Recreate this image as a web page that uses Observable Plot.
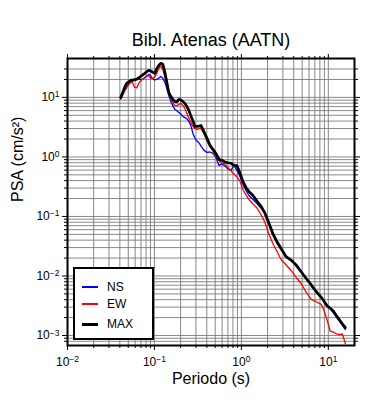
<!DOCTYPE html>
<html><head><meta charset="utf-8">
<script src="https://cdn.jsdelivr.net/npm/d3@7"></script>
<script src="https://cdn.jsdelivr.net/npm/@observablehq/plot@0.6"></script>
<style>
body{margin:0;background:#fff;font-family:"Liberation Sans",Arial,Helvetica,sans-serif;}
#wrap{position:relative;width:390px;height:400px;}
#legend{position:absolute;left:73px;top:267px;width:81px;height:73px;box-sizing:border-box;border:2px solid #000;background:#fff;}
.sw{position:absolute;left:7px;width:16px;}
.lab{position:absolute;left:32px;font-size:12px;line-height:14px;height:14px;color:#000;}
</style></head><body><div id="wrap"></div>
<script>
const period = [0.0409,0.0431,0.0454,0.0479,0.0505,0.0533,0.0562,0.0593,0.0625,0.0659,
0.0695,0.0733,0.0773,0.0815,0.0860,0.0906,0.0956,0.101,0.106,0.112,
0.118,0.125,0.132,0.139,0.146,0.154,0.163,0.171,0.181,0.191,
0.201,0.212,0.224,0.236,0.249,0.262,0.277,0.292,0.308,0.324,0.342,
0.370,0.401,0.434,0.470,0.509,0.552,0.597,0.647,0.700,0.759,0.822,0.890,0.964,
1.04,1.13,1.22,
1.36,1.51,1.68,1.87,2.08,2.31,2.57,2.86,
3.27,3.73,4.26,4.87,5.56,6.35,7.25,8.28,
8.97,9.71,10.5,11.4,12.3,13.4,14.5,15.7];

const ns = [9.62,11.2,13.1,14.7,16.5,17.9,18.9,19.3,19.8,20.1,
20.1,20.1,21.3,22.5,24.4,23.0,20.5,19.7,20.1,20.9,
22.5,20.9,17.9,13.9,10.8,8.57,7.20,6.34,5.98,5.60,
5.26,4.79,4.58,4.37,3.95,3.38,2.48,2.07,1.84,1.75,1.53,
1.30,1.19,1.21,1.145,0.981,0.720,0.763,0.706,0.629,0.593,0.720,0.593,0.470,
0.345,0.274,0.225,
0.193,0.1654,0.1390,0.1080,0.0734,0.0479,0.0352,0.0279,
0.0205,0.0182,0.01467,0.01163,0.00908,0.00679,0.00538,0.00435,
0.00366,0.00307,0.00281,0.00243,0.00205,0.00175,0.00150,0.00126];

const ew = [9.26,10.8,12.9,14.7,16.5,18.6,17.5,14.7,14.4,17.2,
18.9,20.1,21.7,23.4,23.0,20.9,20.9,22.1,25.3,30.7,
33.8,29.6,21.3,15.9,11.9,9.62,8.24,7.34,7.25,7.63,
7.93,7.34,6.53,5.38,4.44,3.80,3.26,3.01,2.90,2.95,3.01,
2.48,1.89,1.50,1.29,1.02,0.873,0.778,0.763,0.666,0.582,0.518,0.461,0.388,
0.284,0.230,0.193,
0.162,0.139,0.108,0.0793,0.0498,0.0345,0.0258,0.0189,
0.0153,0.01237,0.00944,0.00748,0.00534,0.00403,0.00370,0.00334,
0.00258,0.00179,0.00119,0.00114,0.00108,0.00104,0.00106,0.00073];

const maxv = [10.0,12.1,14.7,17.2,18.2,19.3,19.6,19.9,20.2,21.3,
22.5,23.9,25.3,27.0,28.4,27.7,26.6,25.3,30.1,34.5,
37.3,35.9,26.3,17.9,12.1,10.4,9.26,8.57,8.40,9.26,
9.01,8.57,7.93,7.06,6.05,4.93,4.00,3.26,3.26,3.29,3.38,
2.68,2.07,1.58,1.34,1.145,0.908,0.880,0.824,0.799,0.787,0.720,0.712,0.538,
0.388,0.307,0.263,
0.225,0.1815,0.1495,0.1136,0.0763,0.0512,0.0376,0.0290,
0.0211,0.0185,0.01537,0.01181,0.00908,0.00714,0.00549,0.00439,
0.00373,0.00313,0.00288,0.00258,0.00219,0.00184,0.00157,0.00136];

const seriesNames = ["NS", "EW", "MAX"];
const seriesValues = [ns, ew, maxv];
const seriesColors = ["#0000ff", "#ff0000", "#000000"];
const seriesWidths = [1.3, 1.3, 2.7];

const xMajor = [0.01, 0.1, 1, 10];
const xTickLabels = ["10^-2", "10^-1", "10^0", "10^1"];
const xMinor = [0.02,0.03,0.04,0.05,0.06,0.07,0.08,0.09,0.2,0.3,0.4,0.5,0.6,0.7,0.8,0.9,2,3,4,5,6,7,8,9];
const yMajor = [0.001, 0.01, 0.1, 1, 10];
const yTickLabels = ["10^-3", "10^-2", "10^-1", "10^0", "10^1"];
const yMinor = [0.0008,0.0009,0.002,0.003,0.004,0.005,0.006,0.007,0.008,0.009,0.02,0.03,0.04,0.05,0.06,0.07,0.08,0.09,0.2,0.3,0.4,0.5,0.6,0.7,0.8,0.9,2,3,4,5,6,7,8,9,20,30];

const titleText = "Bibl. Atenas (AATN)";
const xLabel = "Periodo (s)";
const yLabel = "PSA (cm/s²)";

const tables = seriesNames.map((name, i) => period.map((p, j) => ({period: p, value: seriesValues[i][j], series: name})));

const gridStyle = {stroke: "#7a7a7a", strokeOpacity: 1, strokeWidth: 0.9};
const fmtX = d => xTickLabels[xMajor.indexOf(d)];
const fmtY = d => yTickLabels[yMajor.indexOf(d)];
const noText = () => "";

const chart = Plot.plot({
  width: 390, height: 400,
  marginLeft: 67, marginRight: 36, marginTop: 58, marginBottom: 55,
  style: {fontFamily: "'Liberation Sans', Arial, Helvetica, sans-serif", fontSize: "12px", background: "#fff", color: "#000"},
  x: {type: "log", domain: [0.01, 20]},
  y: {type: "log", domain: [6.8e-4, 45]},
  marks: [
    Plot.gridX(xMajor.concat(xMinor), gridStyle),
    Plot.gridY(yMajor.concat(yMinor), gridStyle),
    ...tables.map((t, i) => Plot.line(t, {x: "period", y: "value", stroke: seriesColors[i], strokeWidth: seriesWidths[i]})),
    Plot.frame({stroke: "#000", strokeWidth: 2}),
    Plot.axisX(xMajor, {anchor: "bottom", tickSize: 5, tickPadding: 7, tickFormat: fmtX, label: null}),
    Plot.axisX(xMinor, {anchor: "bottom", tickSize: 3, tickFormat: noText, label: null}),
    Plot.axisX(xMajor, {anchor: "top", tickSize: 5, tickFormat: noText, label: null}),
    Plot.axisX(xMinor, {anchor: "top", tickSize: 3, tickFormat: noText, label: null}),
    Plot.axisY(yMajor, {anchor: "left", tickSize: 5, tickPadding: 3, tickFormat: fmtY, label: null}),
    Plot.axisY(yMinor, {anchor: "left", tickSize: 3, tickFormat: noText, label: null}),
    Plot.axisY(yMajor, {anchor: "right", tickSize: 5, tickFormat: noText, label: null}),
    Plot.axisY(yMinor, {anchor: "right", tickSize: 3, tickFormat: noText, label: null}),
    Plot.text([titleText], {frameAnchor: "top", dy: -25, fontSize: 18, fill: "#000"}),
    Plot.text([xLabel], {frameAnchor: "bottom", dy: 38, fontSize: 16, fill: "#000"}),
    Plot.text([yLabel], {frameAnchor: "left", dx: -50, rotate: -90, fontSize: 16, fill: "#000"})
  ]
});

chart.querySelectorAll("text").forEach(t => {
  const m = /^10\^(-?\d+)$/.exec(t.textContent);
  if (m) {
    t.textContent = "10";
    const ts = document.createElementNS("http://www.w3.org/2000/svg", "tspan");
    ts.setAttribute("dy", "-0.45em");
    ts.setAttribute("font-size", "8.5px");
    ts.textContent = m[1].replace("-", "\u2212");
    t.appendChild(ts);
  }
});

const wrap = document.getElementById("wrap");
wrap.appendChild(chart);

const legend = document.createElement("div");
legend.id = "legend";
const rowTops = [18, 35, 55];
seriesNames.forEach((name, i) => {
  const sw = document.createElement("div");
  sw.className = "sw";
  const h = i === 2 ? 3 : 2.4;
  sw.style.top = (rowTops[i] - h / 2) + "px";
  sw.style.height = h + "px";
  sw.style.background = seriesColors[i];
  legend.appendChild(sw);
  const lab = document.createElement("div");
  lab.className = "lab";
  lab.style.top = (rowTops[i] - 7) + "px";
  lab.textContent = name;
  legend.appendChild(lab);
});
wrap.appendChild(legend);
</script>
</body></html>
